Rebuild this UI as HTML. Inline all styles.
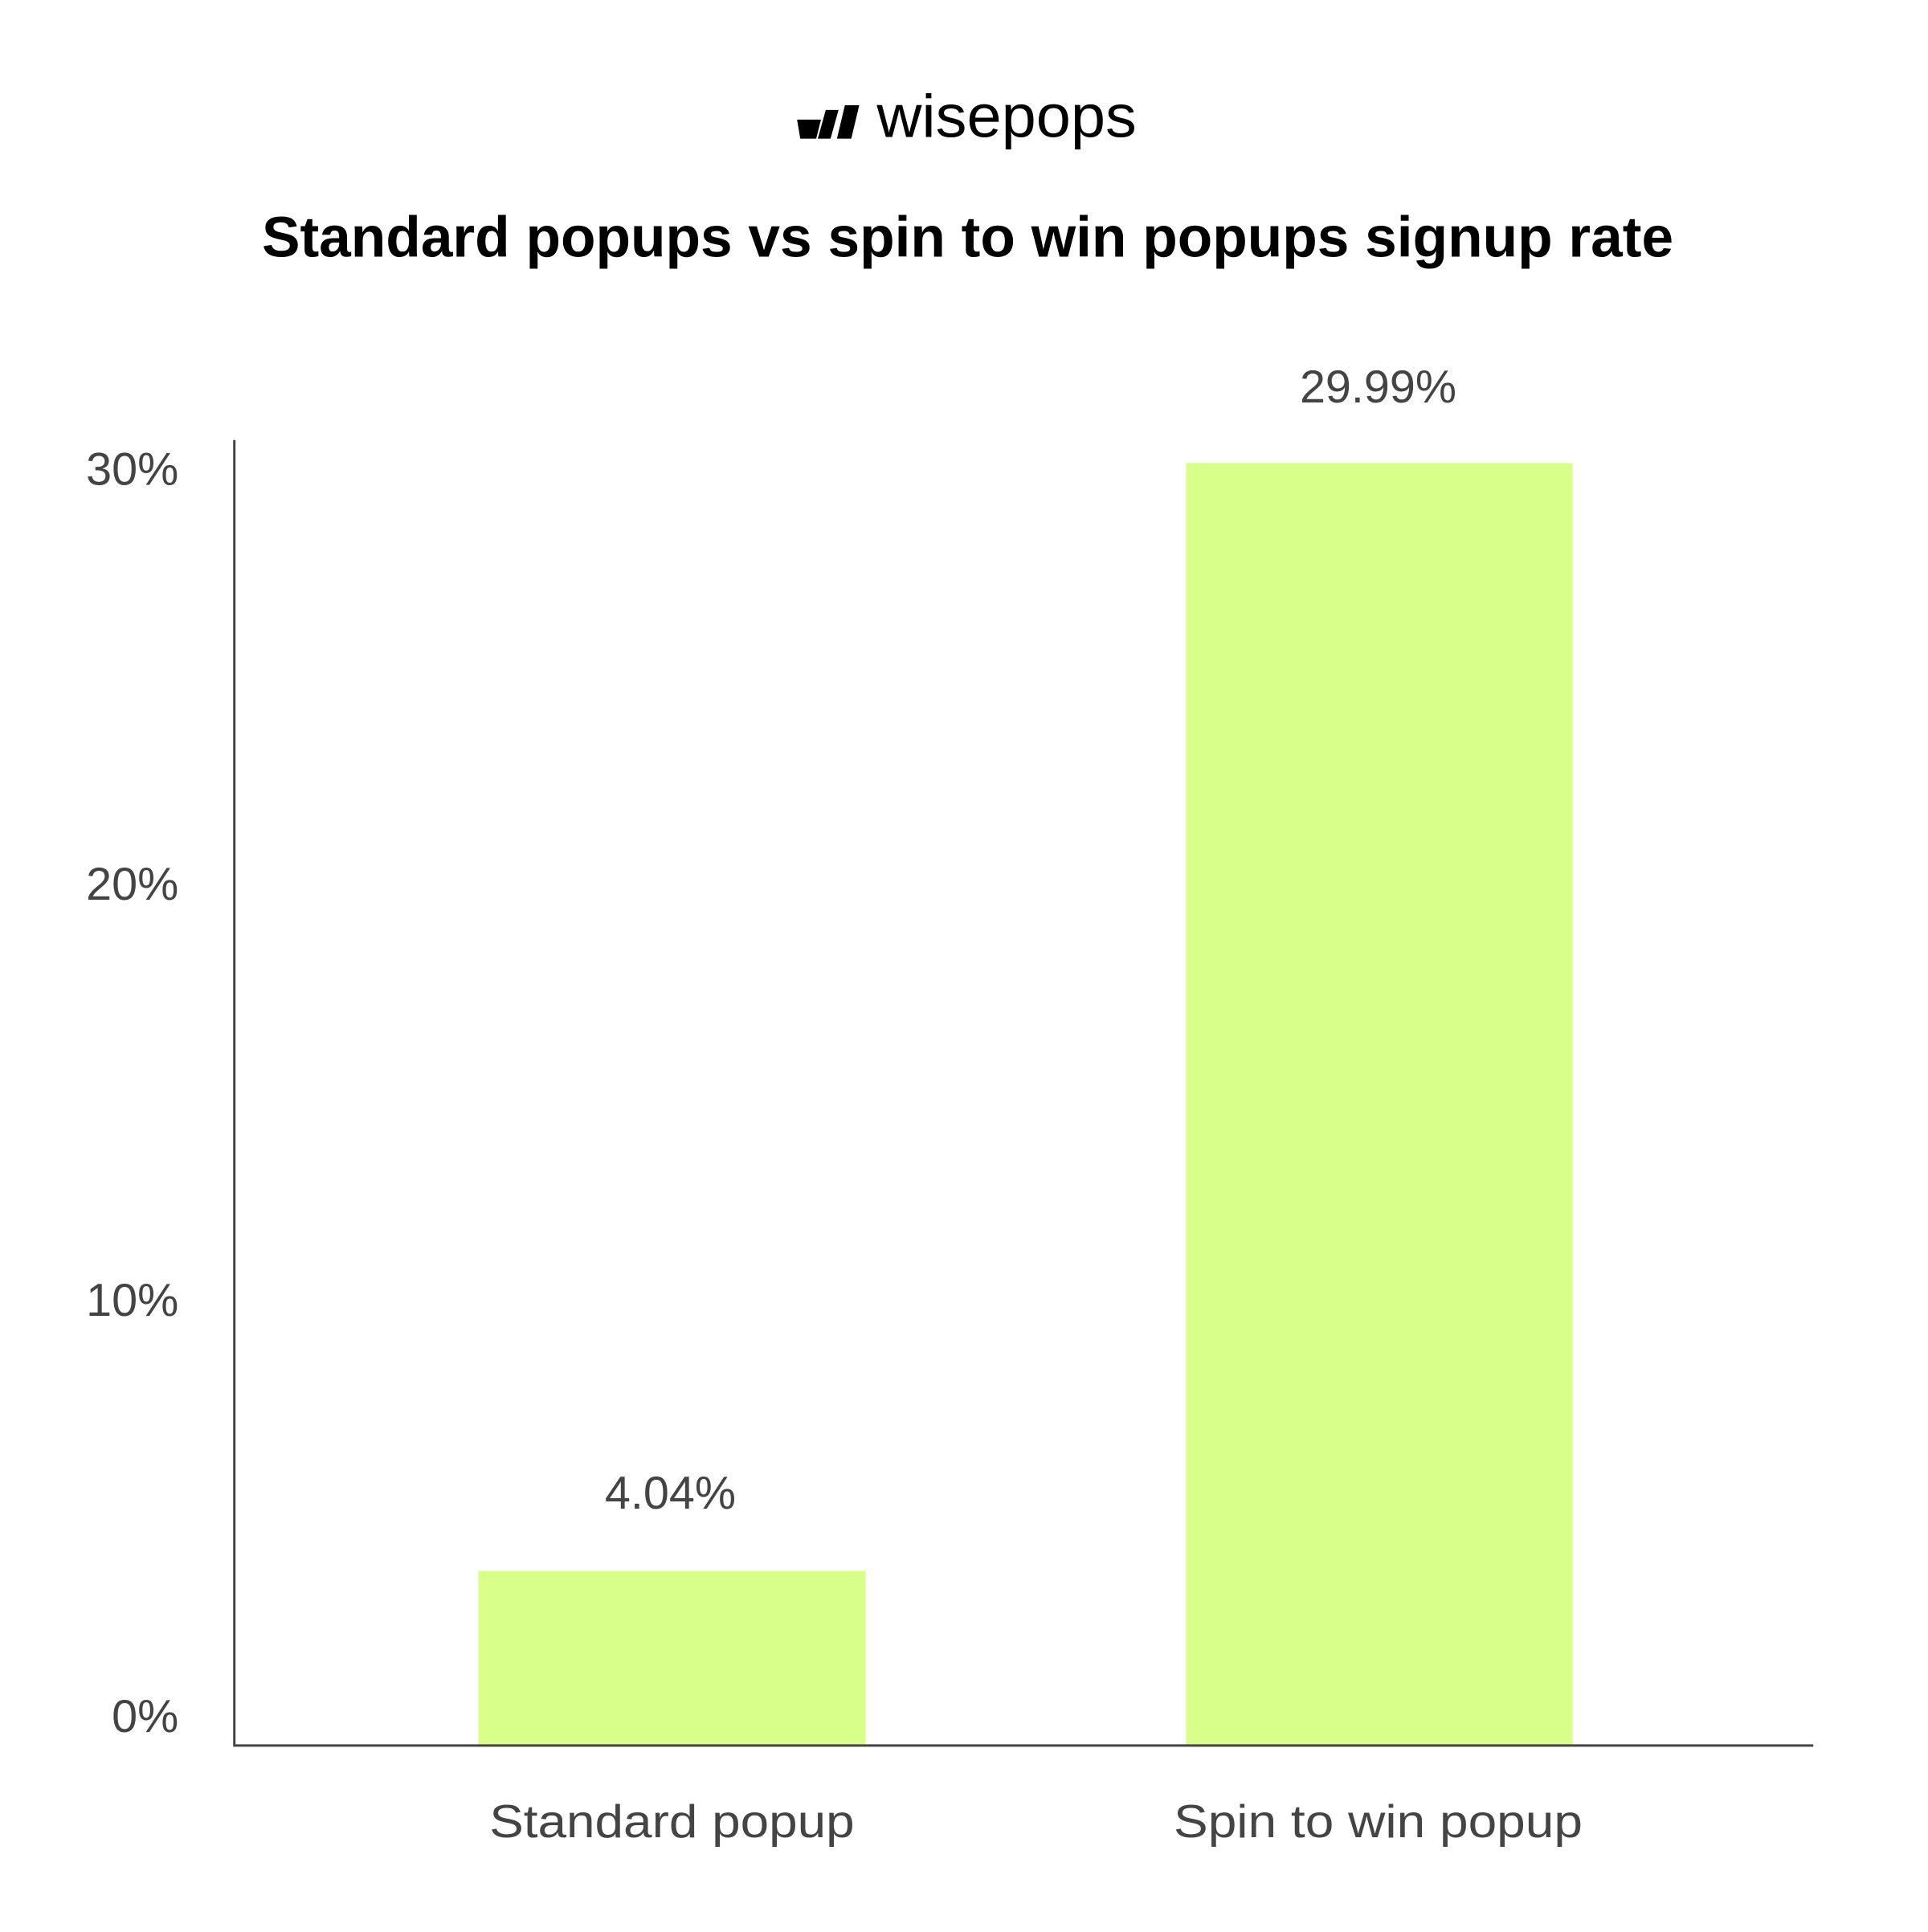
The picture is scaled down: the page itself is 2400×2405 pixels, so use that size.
<!DOCTYPE html>
<html><head><meta charset="utf-8"><style>html,body{margin:0;padding:0;background:#fff}</style></head>
<body>
<svg width="2400" height="2400" viewBox="0 0 2400 2400" xmlns="http://www.w3.org/2000/svg">
<rect width="2400" height="2400" fill="#fff"/>
<g transform="scale(0.9922)">
<g fill="#000">
<path d="M1000 150 L1030 150 L1024 174 L1004 174 Z"/>
<path d="M1036 138 L1052 138 L1042 174 L1026 174 Z"/>
<path d="M1060 132 L1078 132 L1068 174 L1050 174 Z"/>
</g>
<text x="1100" y="172" font-family="Liberation Sans, sans-serif" font-size="76" fill="#000" textLength="326" lengthAdjust="spacingAndGlyphs">wisepops</text>
<text x="1214" y="322" text-anchor="middle" font-family="Liberation Sans, sans-serif" font-weight="bold" font-size="72" fill="#000" textLength="1771" lengthAdjust="spacingAndGlyphs">Standard popups vs spin to win popups signup rate</text>
<rect x="600" y="1971" width="486" height="219" fill="#d8ff8a"/>
<rect x="1488" y="581" width="485" height="1609" fill="#d8ff8a"/>
<line x1="294" y1="552" x2="294" y2="2191" stroke="#444" stroke-width="3"/>
<line x1="293" y1="2190" x2="2275" y2="2190" stroke="#444" stroke-width="3"/>
<g font-family="Liberation Sans, sans-serif" font-size="58" fill="#444" text-anchor="end">
<text x="224" y="608">30%</text>
<text x="224" y="1129">20%</text>
<text x="224" y="1651">10%</text>
<text x="224" y="2173">0%</text>
</g>
<g font-family="Liberation Sans, sans-serif" font-size="58" fill="#444" text-anchor="middle">
<text x="841" y="1893">4.04%</text>
<text x="1729" y="505">29.99%</text>
<text x="843" y="2305" textLength="458" lengthAdjust="spacingAndGlyphs">Standard popup</text>
<text x="1729" y="2305" textLength="513" lengthAdjust="spacingAndGlyphs">Spin to win popup</text>
</g>
</g>
</svg>
</body></html>
